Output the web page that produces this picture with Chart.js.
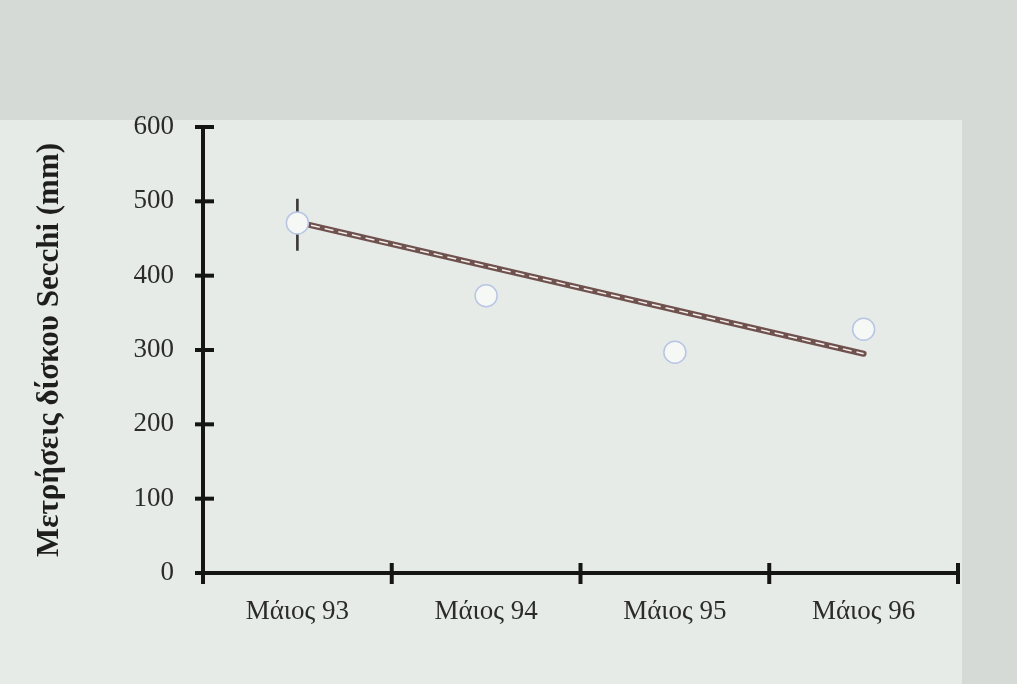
<!DOCTYPE html>
<html>
<head>
<meta charset="utf-8">
<script src="https://cdn.jsdelivr.net/npm/chart.js@4/dist/chart.umd.min.js"></script>
<style>
  html, body { margin: 0; padding: 0; background: #d9ddd9; }
  #wrap { width: 1017px; height: 684px; position: relative; }
</style>
</head>
<body>
<div id="wrap"><canvas id="chart"></canvas></div>
<script>
const labels = ['Μάιος 93', 'Μάιος 94', 'Μάιος 95', 'Μάιος 96'];
const secchi = [471, 373, 297, 328];
const errorBar = [[434, 503], null, null, null];
const trend = [472, null, null, 295];
const yTicks = [0, 100, 200, 300, 400, 500, 600];

const serif = "'Liberation Serif', 'DejaVu Serif', serif";

// paper background, lighter where the plot sits
const paper = {
    id: 'paper',
    beforeDraw(c) {
        const ctx = c.ctx;
        ctx.save();
        ctx.fillStyle = '#d6dad6';
        ctx.fillRect(0, 0, c.width, c.height);
        ctx.fillStyle = '#e7ebe7';
        ctx.fillRect(0, 120, 962, c.height - 120);
        ctx.restore();
    }
};

// tick marks that cross the axis line
const crossTicks = {
    id: 'crossTicks',
    afterDraw(c) {
        const ctx = c.ctx;
        const x = c.scales.x, y = c.scales.y;
        ctx.save();
        ctx.strokeStyle = '#151515';
        ctx.lineWidth = 4;
        y.ticks.forEach(t => {
            const py = y.getPixelForValue(t.value);
            ctx.beginPath();
            ctx.moveTo(y.right - 8, py);
            ctx.lineTo(y.right + 11, py);
            ctx.stroke();
        });
        for (let i = 0; i <= labels.length; i++) {
            const px = x.left + i * (x.width / labels.length);
            ctx.beginPath();
            ctx.moveTo(px, x.top - 10);
            ctx.lineTo(px, x.top + 11);
            ctx.stroke();
        }
        ctx.restore();
    }
};

new Chart(document.querySelector('#chart').getContext('2d'), {
    data: {
        labels: labels,
        datasets: [
            {
                type: 'line',
                label: 'Secchi',
                data: secchi,
                showLine: false,
                pointRadius: 11,
                pointBackgroundColor: '#f6f8f6',
                pointBorderColor: '#b8c5e4',
                pointBorderWidth: 1.5,
                order: 0
            },
            {
                type: 'line',
                label: 'trend-core',
                data: trend,
                spanGaps: true,
                borderColor: '#f4eeee',
                borderWidth: 1.5,
                borderDash: [9, 5],
                pointRadius: 0,
                order: 1
            },
            {
                type: 'line',
                label: 'trend',
                data: trend,
                spanGaps: true,
                borderColor: '#6f524e',
                borderWidth: 6,
                borderCapStyle: 'round',
                pointRadius: 0,
                order: 2
            },
            {
                type: 'bar',
                label: 'error',
                data: errorBar,
                backgroundColor: '#3c3a3a',
                barThickness: 2,
                order: 3
            }
        ]
    },
    options: {
        responsive: true,
        maintainAspectRatio: false,
        animation: false,
        layout: { padding: { top: 127, right: 59, left: 31, bottom: 0 } },
        plugins: {
            legend: { display: false },
            tooltip: { enabled: false }
        },
        scales: {
            x: {
                offset: true,
                grid: { offset: true, drawOnChartArea: false, drawTicks: false },
                border: { color: '#151515', width: 4 },
                ticks: {
                    color: '#2b2b2b',
                    padding: 23,
                    font: { family: serif, size: 27 }
                },
                afterFit(s) { s.height = 111; }
            },
            y: {
                min: 0,
                max: 600,
                afterBuildTicks(s) { s.ticks = yTicks.map(v => ({ value: v })); },
                grid: { drawOnChartArea: false, drawTicks: false },
                border: { color: '#151515', width: 4 },
                ticks: {
                    color: '#2b2b2b',
                    padding: 29,
                    font: { family: serif, size: 27 }
                },
                title: {
                    display: true,
                    text: 'Μετρήσεις δίσκου Secchi (mm)',
                    color: '#1e1e1e',
                    font: { family: serif, size: 31, weight: 'bold' },
                    padding: { top: 0, bottom: 0 }
                },
                afterFit(s) { s.width = 172; }
            }
        }
    },
    plugins: [paper, crossTicks]
});
</script>
</body>
</html>
